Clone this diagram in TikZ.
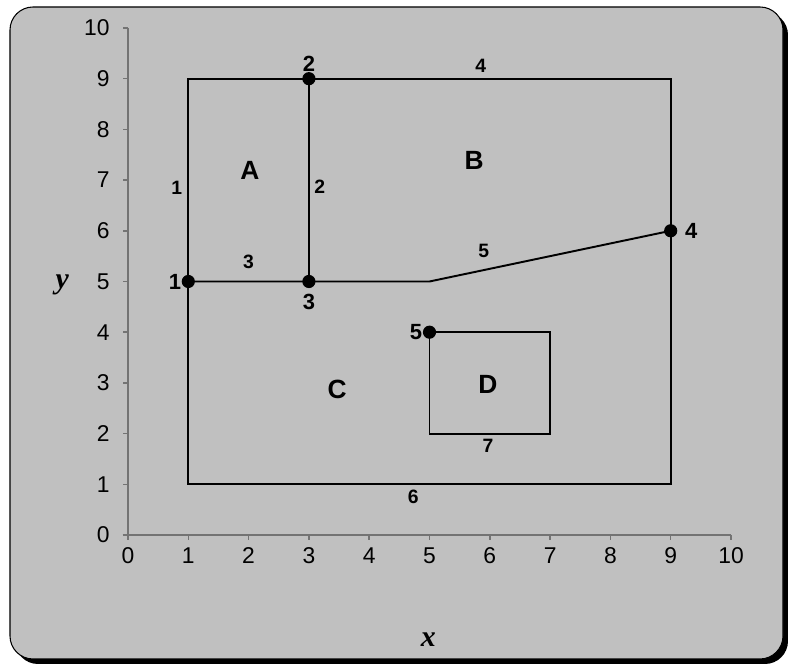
\documentclass[tikz,border=0pt]{standalone}
\usepackage{fontspec}
\setmainfont{Liberation Sans}
\newfontfamily\serifax{Liberation Serif}
\usetikzlibrary{positioning}
\definecolor{panel}{HTML}{C0C0C0}
\tikzset{
  seg/.style={line width=1.1pt},
  vtx/.style={circle, fill=black, inner sep=0pt, minimum size=7.5pt},
  nlbl/.style={font=\bfseries\fontsize{12.5}{14}\selectfont, inner sep=1pt},
  elbl/.style={font=\bfseries\fontsize{11}{13}\selectfont, inner sep=0pt},
  rlbl/.style={font=\bfseries\fontsize{15}{17}\selectfont, inner sep=0pt},
  ticklbl/.style={font=\fontsize{13}{15}\selectfont, inner sep=0pt},
  axline/.style={draw=black!55, line width=0.9pt},
  axname/.style={font=\serifax\bfseries\itshape\fontsize{17}{19}\selectfont, inner sep=0pt}
}
\begin{document}
\begin{tikzpicture}[x=1.206cm, y=1.014cm]
  % frame (plain cm, origin at plot origin)
  \begin{scope}[x=1cm, y=1cm]
    \useasboundingbox (-2.56,-2.62) rectangle (13.20,10.70);
    \fill[black, rounded corners=0.46cm] (-2.26,-2.58) rectangle (13.20,10.46);
    \filldraw[fill=panel, draw=black, line width=0.6pt, rounded corners=0.46cm] (-2.36,-2.48) rectangle (13.10,10.56);
  \end{scope}
  % axes
  \draw[axline] (0,0) -- (0,10);
  \draw[axline] (-0.09,0) -- (10,0);
  \foreach \v in {0,...,10} {
    \draw[axline] (0,\v) -- (-0.09,\v);
    \draw[axline] (\v,0) -- (\v,-0.1);
    \node[ticklbl, anchor=east] (ty\v) at (-0.3,\v) {\v};
    \node[ticklbl] (tx\v) at (\v,-0.4) {\v};
  }
  \node[axname] (ylab) at (-1.09,4.93) {y};
  \node[axname] (xlab) at (4.98,-2.07) {x};
  % corners
  \coordinate (sw) at (1,1);
  \coordinate (se) at (9,1);
  \coordinate (nw) at (1,9);
  \coordinate (bend) at (5,5);
  \coordinate (d1) at (5,2);
  \coordinate (d2) at (7,2);
  \coordinate (d3) at (7,4);
  \node[vtx] (p1) at (1,5) {};
  \node[vtx] (p2) at (3,9) {};
  \node[vtx] (p3) at (3,5) {};
  \node[vtx] (p4) at (9,6) {};
  \node[vtx] (p5) at (5,4) {};
  % edges
  \draw[seg] (p1.center) -- (nw) -- (p2.center) -- (9,9) -- (p4.center) -- (se) -- (sw) -- (p1.center);
  \draw[seg] (p2.center) -- (p3.center);
  \draw[seg] (p1.center) -- (p3.center) -- (bend) -- (p4.center);
  \draw[seg] (p5.center) -- (d3) -- (d2) -- (d1) -- cycle;
  % node labels
  \node[nlbl, left=-1pt of p1] (n1) {1};
  \node[nlbl, above=-1pt of p2] (n2) {2};
  \node[nlbl, below=2pt of p3] (n3) {3};
  \node[nlbl, right=3pt of p4] (n4) {4};
  \node[nlbl, left=-1pt of p5] (n5) {5};
  % edge labels
  \node[elbl] (e1) at (0.81,6.84) {1};
  \node[elbl] (e2) at (3.18,6.86) {2};
  \node[elbl] (e3) at (2.0,5.38) {3};
  \node[elbl] (e4) at (5.85,9.25) {4};
  \node[elbl] (e5) at (5.9,5.6) {5};
  \node[elbl] (e6) at (4.73,0.75) {6};
  \node[elbl] (e7) at (5.97,1.76) {7};
  % regions
  \node[rlbl] (rA) at (2.02,7.2) {A};
  \node[rlbl] (rB) at (5.74,7.38) {B};
  \node[rlbl] (rC) at (3.47,2.88) {C};
  \node[rlbl] (rD) at (5.97,2.96) {D};
\end{tikzpicture}
\end{document}
